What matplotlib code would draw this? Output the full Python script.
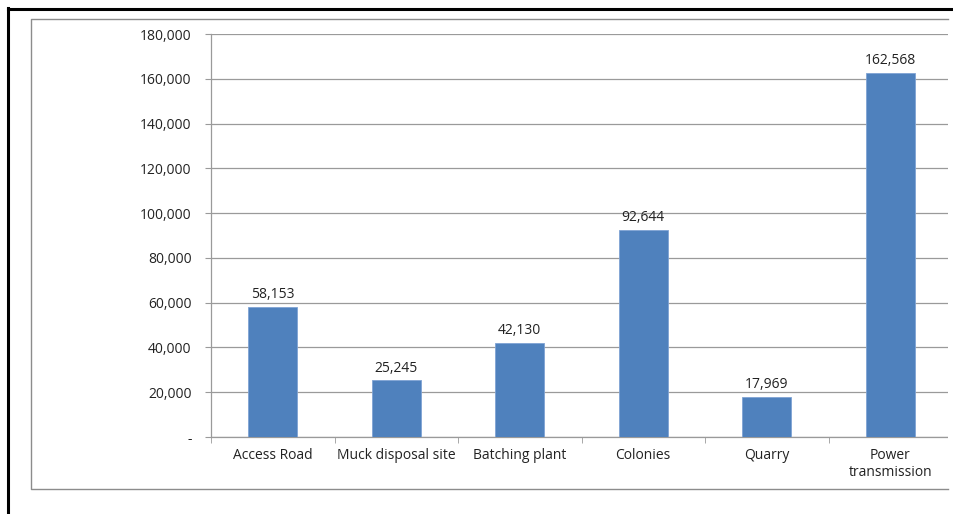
import matplotlib.pyplot as plt
from matplotlib.lines import Line2D
from matplotlib.patches import Rectangle
from matplotlib.ticker import FuncFormatter

categories = ['Access Road', 'Muck disposal site', 'Batching plant', 'Colonies',
              'Quarry', 'Power\ntransmission']
values = [58153, 25245, 42130, 92644, 17969, 162568]

W, H = 954, 514
fig = plt.figure(figsize=(W / 100, H / 100), dpi=100)
plt.rcParams['font.family'] = ['Open Sans', 'DejaVu Sans']

# plot area in pixel coordinates
left, right, top, bottom = 211, 952, 34, 437
ax = fig.add_axes([left / W, 1 - bottom / H, (right - left) / W, (bottom - top) / H])

x = range(len(categories))
ax.bar(x, values, width=0.4, color='#4f81bd', edgecolor='#7fa3d4', linewidth=0.6, zorder=3)
for xi, v in zip(x, values):
    ax.text(xi, v + 2200, f'{v:,}', ha='center', va='bottom', fontsize=10, color='#222222')

ax.set_xlim(-0.5, len(categories) - 0.5)
ax.set_ylim(0, 180000)
ax.set_yticks(range(0, 180001, 20000))
ax.yaxis.set_major_formatter(FuncFormatter(lambda v, p: '-' if v == 0 else f'{int(v):,}'))
ax.grid(axis='y', color='#9a9a9a', linewidth=0.9, zorder=0)

ax.set_xticks(x)
ax.set_xticklabels(categories, fontsize=10, color='#222222', linespacing=1.15)
ax.tick_params(axis='x', length=0, pad=8)
ax.set_xticks([i - 0.5 for i in range(len(categories) + 1)], minor=True)
ax.tick_params(axis='x', which='minor', length=4, color='#9a9a9a', direction='out')
ax.tick_params(axis='y', length=4, color='#9a9a9a', labelsize=10, labelcolor='#222222', pad=10)

for s in ['top', 'right']:
    ax.spines[s].set_visible(False)
for s in ['left', 'bottom']:
    ax.spines[s].set_color('#9a9a9a')
    ax.spines[s].set_linewidth(0.9)

# image is cut off on the right
fig.add_artist(Rectangle((948.5 / W, 0), 6 / W, 1 - 12 / H, transform=fig.transFigure,
                         facecolor='white', edgecolor='none', zorder=5))

# outer frames
def fline(xs, ys, **kw):
    fig.add_artist(Line2D([v / W for v in xs], [1 - v / H for v in ys],
                          transform=fig.transFigure, zorder=6, **kw))

fline([8, 954], [8.5, 8.5], color='black', linewidth=2.2)
fline([8.5, 8.5], [8, 514], color='black', linewidth=2.2)
fline([948, 31, 31, 948], [19, 19, 489, 489], color='#8c8c8c', linewidth=1.0)

fig.savefig('out.png', dpi=100)
